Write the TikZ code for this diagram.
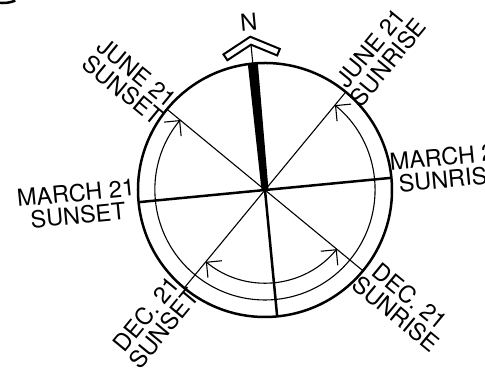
\documentclass[tikz,border=0pt]{standalone}
\usepackage{fontspec}
\setmainfont{TeX Gyre Heros}
\usetikzlibrary{arrows.meta}
\begin{document}
\begin{tikzpicture}[x=1pt,y=1pt,
 lbl/.style={align=center,font=\fontsize{23.5}{22.5}\selectfont,inner sep=0pt,transform shape},
 rim/.style={line width=2.5pt},
 ray/.style={line width=1.1pt},
 sunpath/.style={line width=1.1pt,{Straight Barb[length=11pt,width=22pt]}-{Straight Barb[length=11pt,width=22pt]}}
]
\clip (-265,-181) rectangle (220,190);
\draw[line width=2.5pt] (-266.6,187.3) arc[start angle=262,end angle=292,radius=33];
\begin{scope}[rotate=5.5]
\coordinate (o) at (0,0);
\coordinate (n) at (90:126.5);
\coordinate (s) at (270:127);
\coordinate (e) at (0:127);
\coordinate (w) at (180:127);
\coordinate (jrise) at (45:127);
\coordinate (jset) at (135:127);
\coordinate (dset) at (225:127);
\coordinate (drise) at (315:127);
\coordinate (tip) at (0,146);
\draw[rim] (o) circle[radius=127];
\draw[rim] (w) -- (e);
\draw[rim] (o) -- (s);
\foreach \p in {jrise,jset,dset,drise}
  \draw[ray] (o) -- (\p);
\fill (-5,126.5) -- (5,126.5) -- (3.5,0) -- (-3.5,0) -- cycle;
\draw[ray] (n) -- (tip);
\draw[line width=2pt,fill=white,line join=miter] (0,154) -- (28.3,139) -- (25,132.8) -- (tip) -- (-25,132.8) -- (-28.3,139) -- cycle;
\draw[sunpath] (45:110) arc[start angle=45,end angle=-225,radius=110];
\draw[sunpath] (-45:93) arc[start angle=-45,end angle=-135,radius=93];
\node[lbl] (north) at (0,169) {N};
\node[lbl,rotate=45] (jriselbl) at (127,123) {JUNE 21\\SUNRISE};
\node[lbl,rotate=-45] (jsetlbl) at (-124,121) {JUNE 21\\SUNSET};
\node[lbl] (mriselbl) at (186,4.6) {MARCH 21\\SUNRISE};
\node[lbl] (msetlbl) at (-188.5,4.1) {MARCH 21\\SUNSET};
\node[lbl,rotate=45] (dsetlbl) at (-122,-120) {DEC. 21\\SUNSET};
\node[lbl,rotate=-45] (driselbl) at (126.4,-127.7) {DEC. 21\\SUNRISE};
\end{scope}
\end{tikzpicture}
\end{document}
